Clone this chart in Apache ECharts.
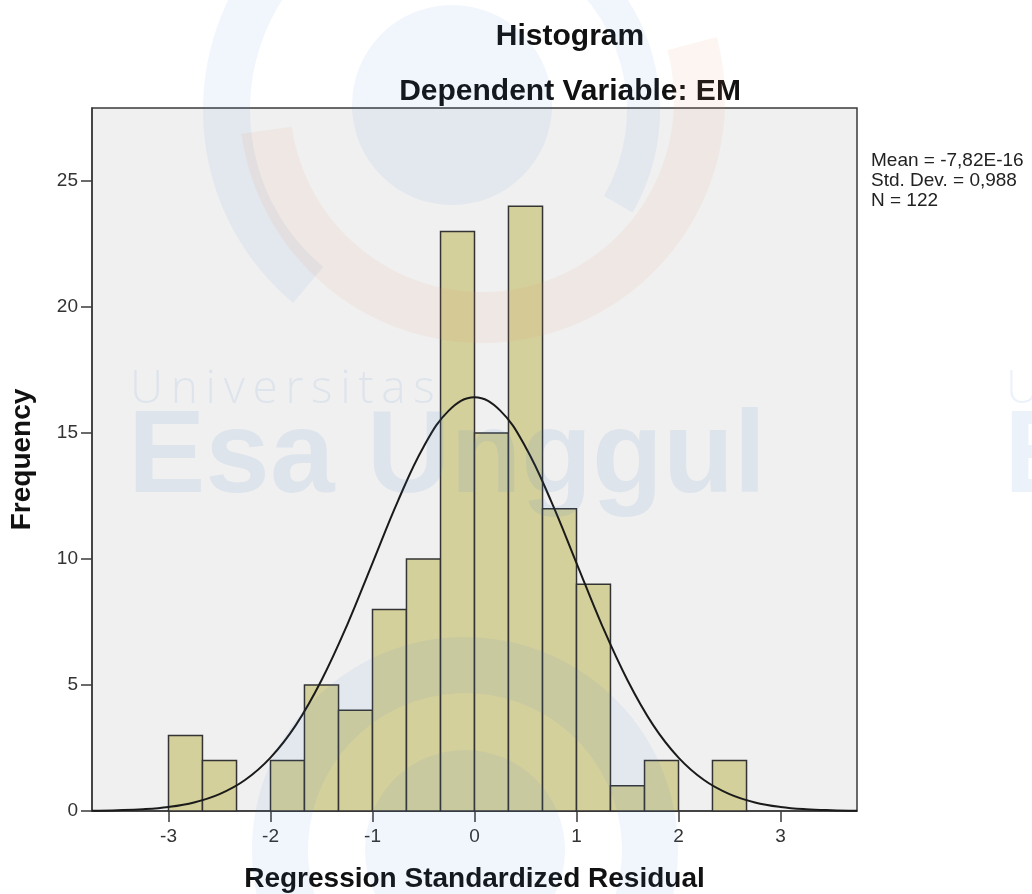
<!DOCTYPE html>
<html>
<head>
<meta charset="utf-8">
<title>Histogram</title>
<script src="https://cdn.jsdelivr.net/npm/echarts@6.0.0/dist/echarts.min.js"></script>
<style>
    html, body { margin: 0; padding: 0; background: #fff; }
    #main { width: 1032px; height: 894px; }
</style>
</head>
<body>
<div id="main"></div>
<script>
// bins of the residual histogram (width 1/3)
var binLeft  = [-3.000, -2.667, -2.333, -2.000, -1.667, -1.333, -1.000, -0.667, -0.333, 0.000, 0.333, 0.667, 1.000, 1.333, 1.667, 2.000, 2.333];
var binRight = [-2.667, -2.333, -2.000, -1.667, -1.333, -1.000, -0.667, -0.333, 0.000, 0.333, 0.667, 1.000, 1.333, 1.667, 2.000, 2.333, 2.667];
var freq     = [3, 2, 0, 2, 5, 4, 8, 10, 23, 15, 24, 12, 9, 1, 2, 0, 2];

// normal curve
var curveX = [-3.75, -3.5, -3.25, -3, -2.75, -2.5, -2.25, -2, -1.75, -1.5, -1.25, -1, -0.75, -0.5, -0.25, 0,
              0.25, 0.5, 0.75, 1, 1.25, 1.5, 1.75, 2, 2.25, 2.5, 2.75, 3, 3.25, 3.5, 3.75];
var curveY = [0.01, 0.03, 0.07, 0.16, 0.34, 0.67, 1.23, 2.12, 3.42, 5.19, 7.37, 9.84, 12.31, 14.45, 15.90, 16.42,
              15.90, 14.45, 12.31, 9.84, 7.37, 5.19, 3.42, 2.12, 1.23, 0.67, 0.34, 0.16, 0.07, 0.03, 0.01];

var xTicks = [-3, -2, -1, 0, 1, 2, 3];
var yTicks = [0, 5, 10, 15, 20, 25];
var statLines = ['Mean = -7,82E-16', 'Std. Dev. = 0,988', 'N = 122'];

var FONT = '"Liberation Sans", Arial, sans-serif';

function deg(d) { return d * Math.PI / 180; }

// faint watermark (logo + text) drawn over the chart
var wmBlue = 'rgba(70,125,210,0.075)';
var wmOrange = 'rgba(235,140,100,0.09)';
var wmText = 'rgba(70,125,210,0.10)';
var watermark = [
    {type: 'circle', shape: {cx: 452, cy: 105, r: 100}, style: {fill: wmBlue}},
    {type: 'sector', shape: {cx: 455, cy: 110, r0: 205, r: 252, startAngle: deg(130), endAngle: deg(215), clockwise: true}, style: {fill: wmBlue}},
    {type: 'sector', shape: {cx: 455, cy: 110, r0: 172, r: 205, startAngle: deg(-60), endAngle: deg(30), clockwise: true}, style: {fill: wmBlue}},
    {type: 'sector', shape: {cx: 482, cy: 100, r0: 192, r: 243, startAngle: deg(-15), endAngle: deg(172), clockwise: true}, style: {fill: wmOrange}},
    {type: 'circle', shape: {cx: 465, cy: 850, r: 100}, style: {fill: wmBlue}},
    {type: 'sector', shape: {cx: 465, cy: 850, r0: 157, r: 213, startAngle: deg(150), endAngle: deg(380), clockwise: true}, style: {fill: wmBlue}},
    {type: 'text', left: 130, top: 367, style: {text: 'U\u2006n\u2006i\u2006v\u2006e\u2006r\u2006s\u2006i\u2006t\u2006a\u2006s', font: '300 46px "Open Sans", sans-serif', fill: wmText}},
    {type: 'text', left: 128, top: 402, style: {text: 'Esa Unggul', font: 'bold 116px "Liberation Sans", Arial, sans-serif', fill: wmText}},
    {type: 'text', left: 1006, top: 367, style: {text: 'U\u2006n\u2006i\u2006v\u2006e\u2006r\u2006s\u2006i\u2006t\u2006a\u2006s', font: '300 46px "Open Sans", sans-serif', fill: wmText}},
    {type: 'text', left: 1004, top: 402, style: {text: 'Esa Unggul', font: 'bold 116px "Liberation Sans", Arial, sans-serif', fill: wmText}}
];
watermark.forEach(function (el) { el.z = 100; el.silent = true; });

var statsText = {
    type: 'text', left: 871, top: 151, z: 50,
    style: {text: statLines.join('\n'), font: '19px ' + FONT, fill: '#222', lineHeight: 20}
};

var myChart = echarts.init(document.getElementById('main'));
var option = {
    backgroundColor: '#fff',
    animation: false,
    title: [
        {text: 'Histogram', left: 565, top: 17, textAlign: 'center',
            textStyle: {fontFamily: FONT, fontSize: 30, fontWeight: 'bold', color: '#111'}},
        {text: 'Dependent Variable: EM', left: 565, top: 72, textAlign: 'center',
            textStyle: {fontFamily: FONT, fontSize: 30, fontWeight: 'bold', color: '#111'}}
    ],
    grid: {
        left: 92, right: 175, top: 108, bottom: 83,
        outerBoundsMode: 'none',
        show: true, backgroundColor: '#F0F0F0', borderColor: '#3a3a3a', borderWidth: 1.5
    },
    xAxis: {
        type: 'value', min: -3.75, max: 3.75,
        name: 'Regression Standardized Residual', nameLocation: 'middle', nameGap: 54,
        nameTextStyle: {fontFamily: FONT, fontSize: 28, fontWeight: 'bold', color: '#111'},
        axisLine: {show: true, onZero: false, lineStyle: {color: '#3a3a3a', width: 1.5}},
        axisTick: {show: true, length: 11, customValues: xTicks, lineStyle: {color: '#3a3a3a', width: 1.5}},
        axisLabel: {customValues: xTicks, margin: 16, fontFamily: FONT, fontSize: 19, color: '#333'},
        splitLine: {show: false}
    },
    yAxis: {
        type: 'value', min: 0, max: 27.9,
        name: 'Frequency', nameLocation: 'middle', nameGap: 56, nameRotate: 90,
        nameTextStyle: {fontFamily: FONT, fontSize: 28, fontWeight: 'bold', color: '#111'},
        axisLine: {show: true, onZero: false, lineStyle: {color: '#3a3a3a', width: 1.5}},
        axisTick: {show: true, length: 11, customValues: yTicks, lineStyle: {color: '#3a3a3a', width: 1.5}},
        axisLabel: {customValues: yTicks, margin: 14, fontFamily: FONT, fontSize: 19, color: '#333'},
        splitLine: {show: false}
    },
    graphic: {elements: watermark.concat([statsText])},
    series: [
        {
            name: 'Frequency',
            type: 'custom',
            renderItem: function (params, api) {
                var f = api.value(2);
                if (!f) return null;
                var p0 = api.coord([api.value(0), f]);
                var p1 = api.coord([api.value(1), 0]);
                return {
                    type: 'rect',
                    shape: {x: p0[0], y: p0[1], width: p1[0] - p0[0], height: p1[1] - p0[1]},
                    style: {fill: '#D4D09C', stroke: '#333', lineWidth: 1.5}
                };
            },
            encode: {x: [0, 1], y: 2},
            data: binLeft.map(function (v, i) { return [v, binRight[i], freq[i]]; }),
            z: 2
        },
        {
            name: 'Normal',
            type: 'line',
            data: curveX.map(function (v, i) { return [v, curveY[i]]; }),
            showSymbol: false,
            smooth: 0.4,
            lineStyle: {color: '#1a1a1a', width: 2},
            z: 3
        }
    ]
};
myChart.setOption(option);
window.onresize = function () {
    myChart.resize();
};
</script>
</body>
</html>
